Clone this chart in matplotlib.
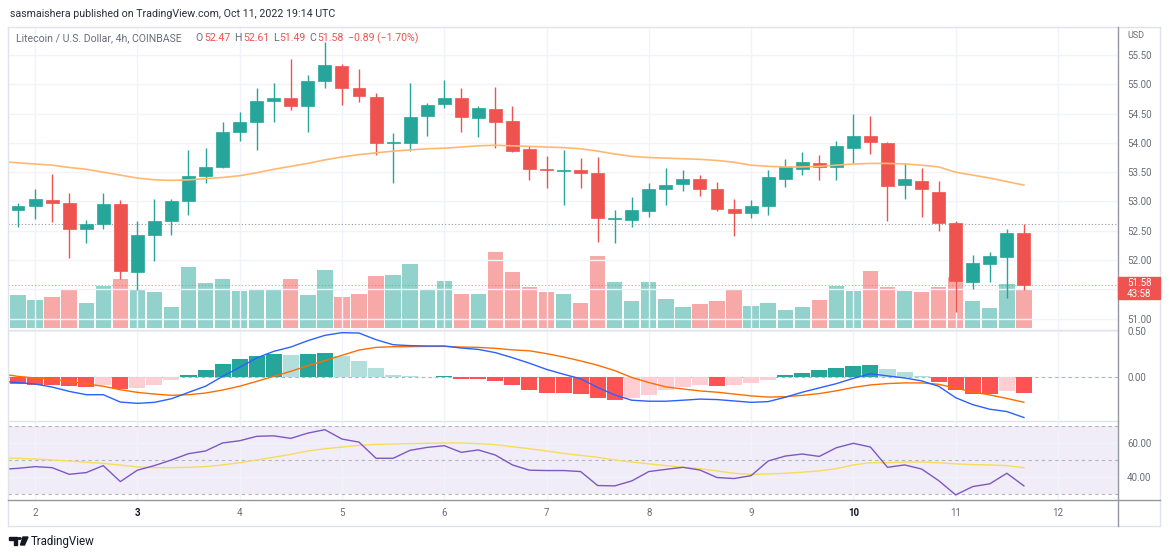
import numpy as np
import matplotlib
matplotlib.use('Agg')
import matplotlib.pyplot as plt
from matplotlib.lines import Line2D
from matplotlib.patches import Rectangle, Polygon, Circle

plt.rcParams['font.family'] = ['Roboto', 'DejaVu Sans']

W, H = 1170, 556

#-----------------------------------------------#
# DATA - LTC/USD 4h candles, Oct 1 20:00 -> Oct 11 16:00
#-----------------------------------------------#
opens = [52.86, 52.92, 53.02, 52.97, 52.53, 52.62, 52.96, 51.80, 52.43, 52.67,
         53.01, 53.43, 53.59, 54.19, 54.36, 54.72, 54.77, 54.63, 55.06, 55.31,
         54.93, 54.78, 54.00, 54.00, 54.46, 54.66, 54.76, 54.43, 54.58, 54.37,
         53.89, 53.56, 53.52, 53.54, 53.48, 52.70, 52.68, 52.83, 53.21, 53.30,
         53.38, 53.21, 52.87, 52.80, 52.92, 53.38, 53.55, 53.66, 53.59, 53.91,
         54.12, 54.00, 53.28, 53.35, 53.17, 52.64, 51.63, 51.94, 52.05, 52.47]
highs = [52.97, 53.21, 53.47, 53.14, 52.68, 53.14, 53.03, 52.67, 53.04, 53.04,
         53.88, 53.92, 54.36, 54.52, 54.93, 55.02, 55.43, 55.16, 55.72, 55.35,
         55.26, 54.85, 54.17, 55.02, 54.68, 55.07, 54.93, 54.63, 54.95, 54.63,
         53.95, 53.78, 53.88, 53.74, 53.76, 52.86, 53.07, 53.32, 53.57, 53.54,
         53.45, 53.34, 53.04, 53.03, 53.54, 53.73, 53.84, 53.79, 54.03, 54.49,
         54.46, 54.02, 53.65, 53.57, 53.35, 52.66, 52.08, 52.14, 52.53, 52.61]
lows = [52.56, 52.70, 52.65, 52.04, 52.29, 52.53, 51.68, 51.49, 51.98, 52.43,
        52.77, 53.32, 53.57, 54.04, 53.88, 54.36, 54.57, 54.19, 54.94, 54.65,
        54.70, 53.80, 53.32, 53.87, 54.11, 54.59, 54.19, 54.10, 53.91, 53.85,
        53.36, 53.23, 52.94, 53.23, 52.31, 52.30, 52.57, 52.74, 52.94, 53.18,
        53.09, 52.83, 52.41, 52.71, 52.77, 53.24, 53.45, 53.36, 53.36, 53.65,
        53.81, 52.67, 53.04, 52.74, 52.50, 51.12, 51.50, 51.63, 51.35, 51.49]
closes = [52.92, 53.04, 52.97, 52.53, 52.62, 52.96, 51.81, 52.43, 52.67, 53.01,
          53.43, 53.59, 54.19, 54.36, 54.72, 54.77, 54.63, 55.06, 55.33, 54.93,
          54.80, 54.00, 54.02, 54.44, 54.65, 54.77, 54.44, 54.59, 54.36, 53.87,
          53.55, 53.53, 53.54, 53.49, 52.71, 52.72, 52.86, 53.21, 53.29, 53.38,
          53.21, 52.88, 52.81, 52.93, 53.41, 53.59, 53.68, 53.59, 53.94, 54.12,
          54.01, 53.26, 53.38, 53.21, 52.63, 51.65, 51.95, 52.07, 52.47, 51.58]
volume = [33300, 28300, 31600, 39300, 25600, 42600, 49300, 39600, 36300, 21600,
          61000, 45600, 49000, 37600, 39600, 39000, 49300, 33300, 58000, 31600,
          34600, 52000, 53300, 64300, 39000, 47000, 34600, 34600, 76000, 56600,
          41600, 36000, 34000, 25600, 72300, 46300, 27600, 46300, 29000, 21000,
          24600, 27000, 39000, 22300, 25600, 18000, 21000, 28300, 42300, 37300,
          57600, 41600, 37300, 36000, 41000, 51600, 27600, 20300, 44300, 39000]

# overlay lines start one bar earlier (index -1) so they run to the left edge
price_ma = [53.68, 53.66, 53.64, 53.62, 53.58, 53.55, 53.50, 53.45, 53.40, 53.37,
            53.36, 53.37, 53.39, 53.41, 53.44, 53.49, 53.55, 53.60, 53.65, 53.71,
            53.76, 53.80, 53.83, 53.86, 53.88, 53.90, 53.91, 53.93, 53.95, 53.96,
            53.95, 53.94, 53.93, 53.92, 53.90, 53.86, 53.81, 53.77, 53.75, 53.74,
            53.73, 53.72, 53.70, 53.67, 53.62, 53.60, 53.59, 53.59, 53.60, 53.62,
            53.64, 53.65, 53.65, 53.64, 53.62, 53.59, 53.50, 53.45, 53.40, 53.34,
            53.28]

macd_hist = [-0.075, -0.082, -0.088, -0.10, -0.11, -0.083, -0.13, -0.12, -0.083, -0.03,
             0.025, 0.076, 0.141, 0.191, 0.232, 0.253, 0.239, 0.255, 0.26, 0.224,
             0.177, 0.094, 0.025, 0.008, 0.003, 0.015, -0.017, -0.026, -0.043, -0.085,
             -0.139, -0.169, -0.178, -0.182, -0.226, -0.248, -0.233, -0.192, -0.143, -0.113,
             -0.088, -0.095, -0.086, -0.068, -0.03, 0.019, 0.049, 0.075, 0.10, 0.124,
             0.132, 0.083, 0.053, 0.011, -0.049, -0.143, -0.182, -0.186, -0.15, -0.177]
macd_line = [-0.045, -0.06, -0.076, -0.109, -0.156, -0.192, -0.192, -0.272, -0.286, -0.275,
             -0.236, -0.167, -0.10, 0.007, 0.105, 0.207, 0.279, 0.326, 0.395, 0.453,
             0.482, 0.478, 0.406, 0.351, 0.341, 0.337, 0.337, 0.315, 0.30, 0.265,
             0.21, 0.150, 0.083, 0.03, -0.019, -0.113, -0.195, -0.252, -0.263, -0.263,
             -0.252, -0.24, -0.245, -0.26, -0.275, -0.267, -0.22, -0.165, -0.118, -0.072,
             -0.014, 0.036, 0.012, -0.01, -0.042, -0.10, -0.225, -0.30, -0.35, -0.375,
             -0.44]
signal_line = [0.035, 0.007, -0.011, -0.022, -0.047, -0.076, -0.10, -0.138, -0.167, -0.185,
               -0.199, -0.192, -0.174, -0.141, -0.10, -0.047, 0.007, 0.062, 0.123, 0.178,
               0.236, 0.293, 0.322, 0.330, 0.330, 0.333, 0.333, 0.326, 0.322, 0.312,
               0.295, 0.285, 0.254, 0.218, 0.175, 0.128, 0.07, -0.005, -0.06, -0.107,
               -0.13, -0.151, -0.165, -0.185, -0.205, -0.218, -0.214, -0.199, -0.18, -0.15,
               -0.113, -0.086, -0.071, -0.064, -0.064, -0.079, -0.12, -0.162, -0.195, -0.233,
               -0.274]

rsi = [44.5, 45.1, 46.1, 45.5, 41.6, 42.6, 46.7, 37.3, 44.0, 46.7,
       50.0, 53.7, 55.3, 60.0, 61.3, 63.9, 64.2, 62.7, 65.8, 67.8,
       62.3, 60.5, 51.0, 51.0, 55.7, 57.4, 58.4, 54.5, 55.9, 52.9,
       47.1, 44.0, 43.8, 43.8, 43.2, 35.0, 34.8, 37.7, 43.2, 44.5,
       45.7, 44.1, 39.7, 39.1, 40.8, 49.4, 52.3, 53.5, 52.1, 57.2,
       59.8, 57.6, 45.7, 47.1, 44.7, 37.9, 29.5, 34.4, 36.0, 42.2,
       34.8]
rsi_ma = [51.2, 51.0, 50.6, 50.0, 49.4, 48.7, 48.0, 47.0, 45.9, 45.5,
          45.5, 45.7, 46.1, 47.1, 48.4, 50.0, 51.6, 53.3, 55.3, 56.6,
          57.6, 58.6, 59.2, 59.4, 59.6, 59.8, 60.0, 60.0, 59.6, 59.0,
          57.8, 56.6, 55.3, 53.9, 52.7, 51.6, 50.0, 48.8, 47.7, 46.7,
          45.7, 44.9, 43.6, 42.2, 41.6, 41.8, 42.2, 42.8, 43.6, 44.9,
          47.1, 48.4, 48.4, 48.8, 48.8, 48.4, 47.7, 47.3, 47.1, 46.7,
          45.5]

# grey dotted level line and the countdown on the last-price tag
level_line = 52.62
countdown = '43:58'

day_labels = ['2', '3', '4', '5', '6', '7', '8', '9', '10', '11', '12']
day_bar_index = [1, 7, 13, 19, 25, 31, 37, 43, 49, 55, 61]
bold_days = ['3', '10']

price_ticks = [51.0, 51.5, 52.0, 52.5, 53.0, 53.5, 54.0, 54.5, 55.0, 55.5]
macd_ticks = [0.5, 0.0]
rsi_ticks = [60, 40]

#-----------------------------------------------#
# COLOURS
#-----------------------------------------------#
up_col = '#26a69a'
down_col = '#ef5350'
up_vol = '#92d2cc'
down_vol = '#f7a9a7'
grid_col = '#f0f3fa'
text_col = '#6a6d78'
frame_col = '#e0e3eb'
axis_col = '#9598a1'


def px_rect(x0, y0, x1, y1):
    return [x0 / W, 1 - y1 / H, (x1 - x0) / W, (y1 - y0) / H]


def fig_line(fig, x0, y0, x1, y1, color, lw=1.0, ls='-'):
    fig.add_artist(Line2D([x0 / W, x1 / W], [1 - y0 / H, 1 - y1 / H],
                          color=color, lw=lw, ls=ls, transform=fig.transFigure))


fig = plt.figure(figsize=(W / 100, H / 100), dpi=100)
fig.patch.set_facecolor('white')

n = len(closes)
idx = np.arange(n)
idx_line = np.arange(-1, n)
xlim = (-0.587, 64.52)

ax_vol = fig.add_axes(px_rect(8, 27, 1118, 330))
ax = fig.add_axes(px_rect(8, 27, 1118, 330))
ax_macd = fig.add_axes(px_rect(8, 330, 1118, 420))
ax_rsi = fig.add_axes(px_rect(8, 421, 1118, 500))
ax.set_facecolor('none')

for a in [ax_vol, ax, ax_macd, ax_rsi]:
    a.set_xlim(*xlim)
    for s in a.spines.values():
        s.set_visible(False)
    a.tick_params(length=0, labelsize=7, colors=text_col)

# volume (behind the candles)
vol_cols = [up_vol if closes[i] >= opens[i] else down_vol for i in idx]
ax_vol.bar(idx, volume, width=0.9, color=vol_cols, zorder=2)
ax_vol.set_ylim(-1700, 301300)
ax_vol.set_xticks([])
ax_vol.set_yticks([])

# price gridlines
ax.set_ylim(50.807, 55.978)
ax.set_xticks(day_bar_index)
ax.set_xticklabels([])
ax.yaxis.tick_right()
ax.set_yticks(price_ticks, ['' if t == 51.5 else '%.2f' % t for t in price_ticks])
ax.tick_params(axis='y', pad=6.5)
ax.grid(True, color=grid_col, lw=1)
ax.set_axisbelow(True)

# candles
cols = [up_col if closes[i] >= opens[i] else down_col for i in idx]
ax.vlines(idx, lows, highs, colors=cols, lw=1, zorder=3)
body_lo = np.minimum(opens, closes)
body_h = np.maximum(np.abs(np.array(closes) - np.array(opens)), 0.015)
ax.bar(idx, body_h, bottom=body_lo, width=0.76, color=cols, edgecolor=cols, lw=0.5, zorder=4)

ax.plot(idx_line, price_ma, color='#ffb870', lw=1.2, zorder=5)
ax.axhline(level_line, color=axis_col, ls=(0, (1, 2)), lw=0.8, zorder=2)
ax.axhline(closes[-1], color=down_col, ls=(0, (1, 2)), lw=0.8, alpha=0.6, zorder=2)

# MACD pane
ax_macd.set_ylim(-0.467, 0.511)
ax_macd.set_xticks(day_bar_index)
ax_macd.set_xticklabels([])
ax_macd.yaxis.tick_right()
ax_macd.set_yticks(macd_ticks, ['%.2f' % t for t in macd_ticks])
ax_macd.tick_params(axis='y', pad=6.5)
ax_macd.grid(True, color=grid_col, lw=1)
ax_macd.set_axisbelow(True)

hist_cols = []
for i, h in enumerate(macd_hist):
    prev = macd_hist[i - 1] if i > 0 else h + 0.01
    if h >= 0:
        hist_cols.append('#26a69a' if h > prev else '#b2dfdb')
    else:
        hist_cols.append('#ff5252' if h < prev else '#ffcdd2')
ax_macd.bar(idx, macd_hist, width=0.94, color=hist_cols, zorder=2)
ax_macd.axhline(0, color='#b2b5be', ls=(0, (3, 3)), lw=0.8, zorder=1)
ax_macd.plot(idx_line, macd_line, color='#2962ff', lw=1, zorder=4)
ax_macd.plot(idx_line, signal_line, color='#ff6d00', lw=1, zorder=3)

# RSI pane
ax_rsi.set_ylim(26.5, 72.9)
ax_rsi.axhspan(30, 70, color='#7e57c2', alpha=0.1, lw=0, zorder=0)
for lvl in [70, 50, 30]:
    ax_rsi.axhline(lvl, color='#b2b5be', ls=(0, (3, 3)), lw=0.8, zorder=1)
ax_rsi.yaxis.tick_right()
ax_rsi.set_yticks(rsi_ticks, ['%.2f' % t for t in rsi_ticks])
ax_rsi.tick_params(axis='y', pad=6.5)
ax_rsi.grid(True, color=grid_col, lw=1)
ax_rsi.set_axisbelow(True)
ax_rsi.plot(idx_line, rsi_ma, color='#f7dc5a', lw=1, zorder=3)
ax_rsi.plot(idx_line, rsi, color='#7e57c2', lw=1, zorder=4)

ax_rsi.set_xticks(day_bar_index, day_labels)
ax_rsi.tick_params(axis='x', pad=6)
for lab in ax_rsi.get_xticklabels():
    if lab.get_text() in bold_days:
        lab.set_fontweight('bold')
        lab.set_color('#131722')

# frame, axis lines, pane separators
fig_line(fig, 8, 27, 1160, 27, frame_col)
fig_line(fig, 8, 526, 1160, 526, frame_col)
fig_line(fig, 8, 27, 8, 526, frame_col)
fig_line(fig, 1160, 27, 1160, 526, frame_col)
fig_line(fig, 8, 330, 1118, 330, frame_col)
fig_line(fig, 8, 420.5, 1118, 420.5, frame_col)
fig_line(fig, 1118, 27, 1118, 526, axis_col)
fig_line(fig, 8, 500, 1160, 500, axis_col)

# price axis extras
fig.text(1127 / W, 1 - 36 / H, 'USD', fontsize=6.5, color=text_col, va='center')
fig.add_artist(Rectangle((1118 / W, 1 - 299 / H), 42 / W, 22 / H, color=down_col,
                         transform=fig.transFigure, zorder=5))
fig.text(1127 / W, 1 - 283 / H, '%.2f' % closes[-1], fontsize=7, color='white',
         va='center', zorder=6)
fig.text(1127 / W, 1 - 294 / H, countdown, fontsize=7, color='white', va='center', zorder=6)

# header
fig.text(10 / W, 1 - 14 / H, 'sasmaishera published on TradingView.com, Oct 11, 2022 19:14 UTC',
         fontsize=7.7, color='#2a2e39', va='center')

change = closes[-1] - closes[-2]
pct = change / closes[-2] * 100
pieces = [('Litecoin / U.S. Dollar, 4h, COINBASE', text_col, 14),
          ('O', text_col, 1), ('%.2f' % opens[-1], down_col, 4),
          ('H', text_col, 1), ('%.2f' % highs[-1], down_col, 4),
          ('L', text_col, 1), ('%.2f' % lows[-1], down_col, 4),
          ('C', text_col, 1), ('%.2f' % closes[-1], down_col, 4),
          ('\u2212%.2f (\u2212%.2f%%)' % (-change, -pct), down_col, 0)]
fig.canvas.draw()
renderer = fig.canvas.get_renderer()
xpos = 16
for txt, c, gap in pieces:
    t = fig.text(xpos / W, 1 - 38 / H, txt, fontsize=7.6, color=c, va='center')
    bb = t.get_window_extent(renderer)
    xpos = bb.x1 + gap

# TradingView logo at the bottom
fig.add_artist(Polygon([(9 / W, 1 - 537 / H), (17 / W, 1 - 537 / H), (17 / W, 1 - 545 / H),
                        (13.5 / W, 1 - 545 / H), (13.5 / W, 1 - 540 / H), (9 / W, 1 - 540 / H)],
                       closed=True, color='#131722', transform=fig.transFigure))
fig.add_artist(Circle((19.5 / W, 1 - 538.5 / H), 1.6 / W, color='#131722',
                      transform=fig.transFigure))
fig.add_artist(Polygon([(23 / W, 1 - 537 / H), (28 / W, 1 - 537 / H), (24.5 / W, 1 - 545 / H),
                        (20.5 / W, 1 - 545 / H)],
                       closed=True, color='#131722', transform=fig.transFigure))
fig.text(31 / W, 1 - 541 / H, 'TradingView', fontsize=8.3, color='#131722', va='center')

fig.savefig('out.png', dpi=100)
